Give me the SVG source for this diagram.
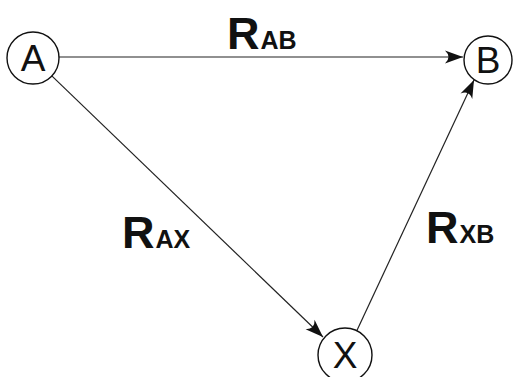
<svg xmlns="http://www.w3.org/2000/svg" width="513" height="377" viewBox="0 0 513 377">
<style>
.node{fill:#fff;stroke:#111;stroke-width:1.4}
.nt{font-family:"Liberation Sans",Arial,sans-serif;font-size:37px;fill:#111;text-anchor:middle}
.edge{stroke:#222;stroke-width:1.2;fill:none;marker-end:url(#arr)}
.lbl{font-family:"Liberation Sans",Arial,sans-serif;font-weight:bold;fill:#111}
.big{font-size:45px}
.sub{font-size:25px}
</style>
<defs>
<marker id="arr" markerUnits="userSpaceOnUse" markerWidth="22" markerHeight="14" viewBox="-20 -7 22 14" refX="0" refY="0" orient="auto">
<path d="M0,0 L-18,-6.5 Q-11,0 -18,6.5 Z" fill="#111"/>
</marker>
</defs>
<g id="connectors">
<line class="edge" x1="59" y1="57" x2="463" y2="57"/>
<line class="edge" x1="51.8" y1="75.9" x2="323" y2="337"/>
<line class="edge" x1="356.8" y1="330.7" x2="474" y2="80"/>
</g>
<g id="node-A"><circle class="node" cx="33" cy="58" r="26"/><text class="nt" x="33" y="71">A</text></g>
<g id="node-B"><circle class="node" cx="488" cy="60" r="24"/><text class="nt" x="488" y="73">B</text></g>
<g id="node-X"><circle class="node" cx="345" cy="355" r="27"/><text class="nt" x="345" y="368">X</text></g>
<g id="labels">
<text class="lbl" x="227" y="49"><tspan class="big">R</tspan><tspan class="sub" dx="1">AB</tspan></text>
<text class="lbl" x="122" y="248"><tspan class="big">R</tspan><tspan class="sub" dx="1">AX</tspan></text>
<text class="lbl" x="426" y="243"><tspan class="big">R</tspan><tspan class="sub" dx="1">XB</tspan></text>
</g>
</svg>
